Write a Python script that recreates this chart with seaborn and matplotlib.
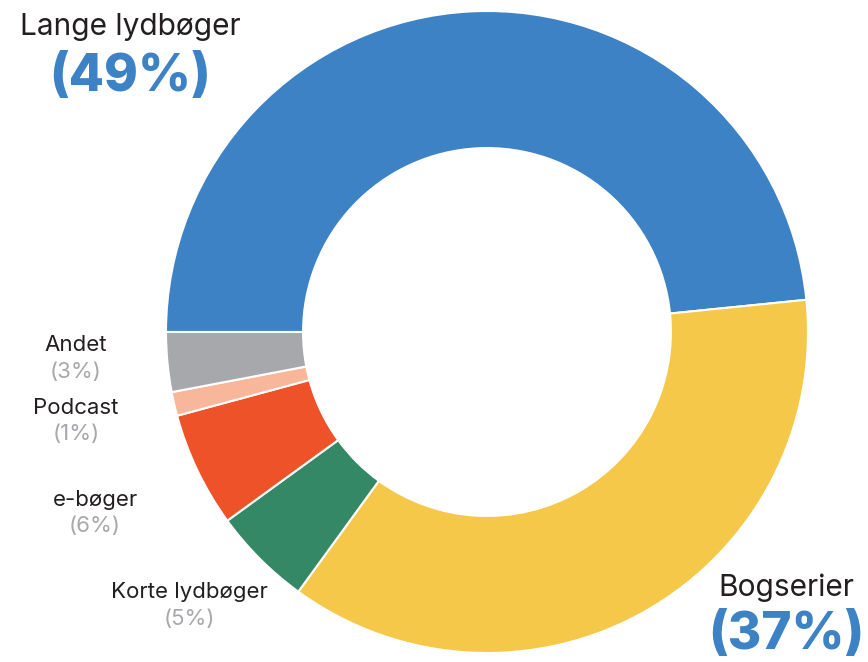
import numpy as np
import seaborn as sns
from matplotlib import pyplot as plt

categories = ['Lange lydbøger', 'Bogserier', 'Korte lydbøger', 'e-bøger', 'Podcast', 'Andet']
shares = [48.4, 36.6, 5.0, 5.8, 1.2, 3.0]
pct_labels = ['(49%)', '(37%)', '(5%)', '(6%)', '(1%)', '(3%)']
colors = ['#3c82c5', '#f5c84a', '#358866', '#ee5229', '#f8b69b', '#a7a8ab']

sns.set_theme(style='white')
plt.rcParams['font.family'] = ['Inter', 'DejaVu Sans']

W, H = 868, 662
fig = plt.figure(figsize=(W / 100, H / 100), dpi=100)
cx, cy, r = 487, 332, 321
ax = fig.add_axes([(cx - r) / W, (H - cy - r) / H, 2 * r / W, 2 * r / H])
ax.pie(shares, colors=colors, startangle=180, counterclock=False, radius=1,
       wedgeprops=dict(width=0.427, edgecolor='white', linewidth=1.5))
ax.set_xlim(-1, 1)
ax.set_ylim(-1, 1)
ax.set_aspect('equal')
ax.axis('off')

# label anchors in pixels (name centre, pct centre), big = blue bold style
label_pos = {
    'Lange lydbøger': (130, 27, 77, True),
    'Bogserier': (786, 588, 636, True),
    'Korte lydbøger': (189, 592, 619, False),
    'e-bøger': (95, 500, 526, False),
    'Podcast': (76, 408, 434, False),
    'Andet': (76, 345, 372, False),
}

for name, pct in zip(categories, pct_labels):
    x, y1, y2, big = label_pos[name]
    if big:
        fig.text(x / W, 1 - y1 / H, name, ha='center', va='center', fontsize=21.5,
                 fontweight='normal', color='#231f20')
        fig.text(x / W, 1 - y2 / H, pct, ha='center', va='center', fontsize=37,
                 fontweight='heavy', color='#3c82c5')
    else:
        fig.text(x / W, 1 - y1 / H, name, ha='center', va='center', fontsize=16,
                 fontweight='normal', color='#231f20')
        fig.text(x / W, 1 - y2 / H, pct, ha='center', va='center', fontsize=16,
                 fontweight='normal', color='#a7a8ab')

fig.savefig('out.png', dpi=100, facecolor='white')
